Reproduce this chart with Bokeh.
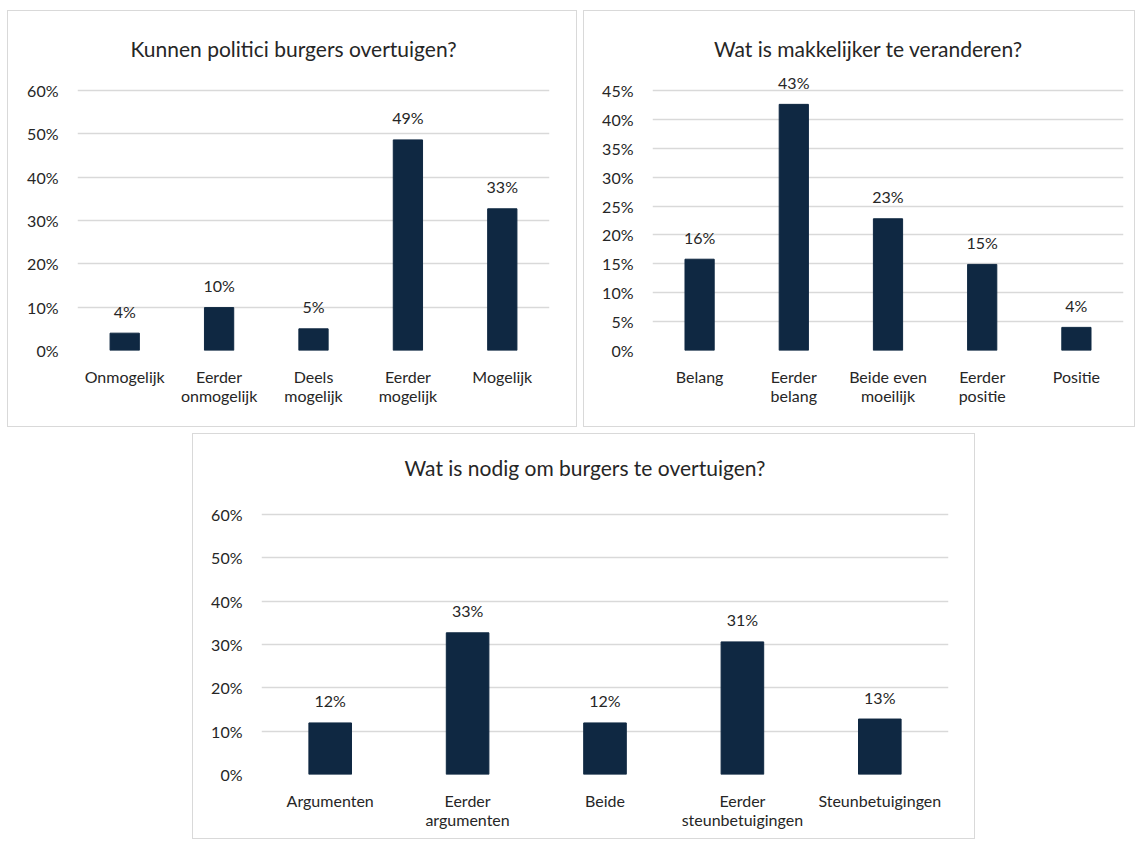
from bokeh.plotting import figure
from bokeh.layouts import column, row, Spacer
from bokeh.models import (FactorRange, Range1d, FixedTicker, NumeralTickFormatter,
                          ColumnDataSource, LabelSet, Label)
from bokeh.core.properties import value
from bokeh.embed import file_html
from bokeh.resources import INLINE

# ---- data ----
title1 = "Kunnen politici burgers overtuigen?"
cats1 = ["Onmogelijk", "Eerder\nonmogelijk", "Deels\nmogelijk", "Eerder\nmogelijk", "Mogelijk"]
vals1 = [0.040, 0.099, 0.050, 0.486, 0.327]
ticks1 = [0.0, 0.1, 0.2, 0.3, 0.4, 0.5, 0.6]

title2 = "Wat is makkelijker te veranderen?"
cats2 = ["Belang", "Eerder\nbelang", "Beide even\nmoeilijk", "Eerder\npositie", "Positie"]
vals2 = [0.158, 0.426, 0.228, 0.149, 0.040]
ticks2 = [0.0, 0.05, 0.10, 0.15, 0.20, 0.25, 0.30, 0.35, 0.40, 0.45]

title3 = "Wat is nodig om burgers te overtuigen?"
cats3 = ["Argumenten", "Eerder\nargumenten", "Beide", "Eerder\nsteunbetuigingen", "Steunbetuigingen"]
vals3 = [0.119, 0.327, 0.119, 0.306, 0.128]
ticks3 = [0.0, 0.1, 0.2, 0.3, 0.4, 0.5, 0.6]

FONT = "Lato"
BAR = "#0f2842"
TXT = "#262626"
GRID = "#d9d9d9"


def make_chart(title, cats, vals, ticks, width, height, mb_left, mb_right, mb_bottom,
               plot_top, title_y, title_dx=0):
    # the frame fills the canvas up to the top; the highest tick sits plot_top px below
    frame_h = height - mb_bottom
    ppu = (frame_h - plot_top) / (ticks[-1] - ticks[0])
    y_end = ticks[-1] + plot_top / ppu
    p = figure(x_range=FactorRange(*cats, range_padding=0),
               y_range=Range1d(ticks[0], y_end),
               width=width, height=height, output_backend="svg",
               toolbar_location=None, tools="",
               min_border_left=mb_left, min_border_right=mb_right,
               min_border_top=0, min_border_bottom=mb_bottom)
    p.styles = {"border": "1px solid #d9d9d9", "box-sizing": "border-box"}
    p.outline_line_color = None
    p.background_fill_color = "white"
    p.border_fill_color = "white"

    p.add_layout(Label(x=width / 2 - mb_left + title_dx, y=frame_h - title_y,
                       x_units="screen", y_units="screen", text=title,
                       text_align="center", text_baseline="middle",
                       text_font=FONT, text_font_size="21px", text_color=TXT))

    src = ColumnDataSource(dict(x=cats, top=vals,
                                lab=[f"{round(v * 100)}%" for v in vals]))
    p.vbar(x="x", top="top", width=0.31, source=src, fill_color=BAR, line_color=BAR)
    labels = LabelSet(x="x", y="top", text="lab", source=src, y_offset=22,
                      text_align="center", text_baseline="middle",
                      text_font=value(FONT), text_font_size=value("16px"), text_color=TXT)
    p.add_layout(labels)

    p.xgrid.grid_line_color = None
    p.ygrid.grid_line_color = GRID
    p.ygrid.grid_line_width = 1.5

    p.yaxis.ticker = FixedTicker(ticks=ticks)
    p.yaxis.formatter = NumeralTickFormatter(format="0%")
    for ax in (p.xaxis, p.yaxis):
        ax.axis_line_color = None
        ax.major_tick_line_color = None
        ax.minor_tick_line_color = None
        ax.major_tick_out = 0
        ax.major_tick_in = 0
        ax.major_label_text_font = FONT
        ax.major_label_text_font_size = "16px"
        ax.major_label_text_color = TXT
    p.yaxis.major_label_standoff = 19
    p.xaxis.major_label_standoff = 16
    p.xaxis.major_label_text_line_height = 1.05
    return p


p1 = make_chart(title1, cats1, vals1, ticks1, 570, 417, 69, 29, 78, 79, 37)
p2 = make_chart(title2, cats2, vals2, ticks2, 552, 417, 68, 13, 78, 79, 37, 8)
p3 = make_chart(title3, cats3, vals3, ticks3, 783, 406, 68, 28, 66, 80, 33)

layout = column(
    Spacer(height=10),
    row(Spacer(width=7), p1, Spacer(width=6), p2),
    Spacer(height=6),
    row(Spacer(width=192), p3),
)

open("out.html", "w").write(file_html(layout, INLINE))
